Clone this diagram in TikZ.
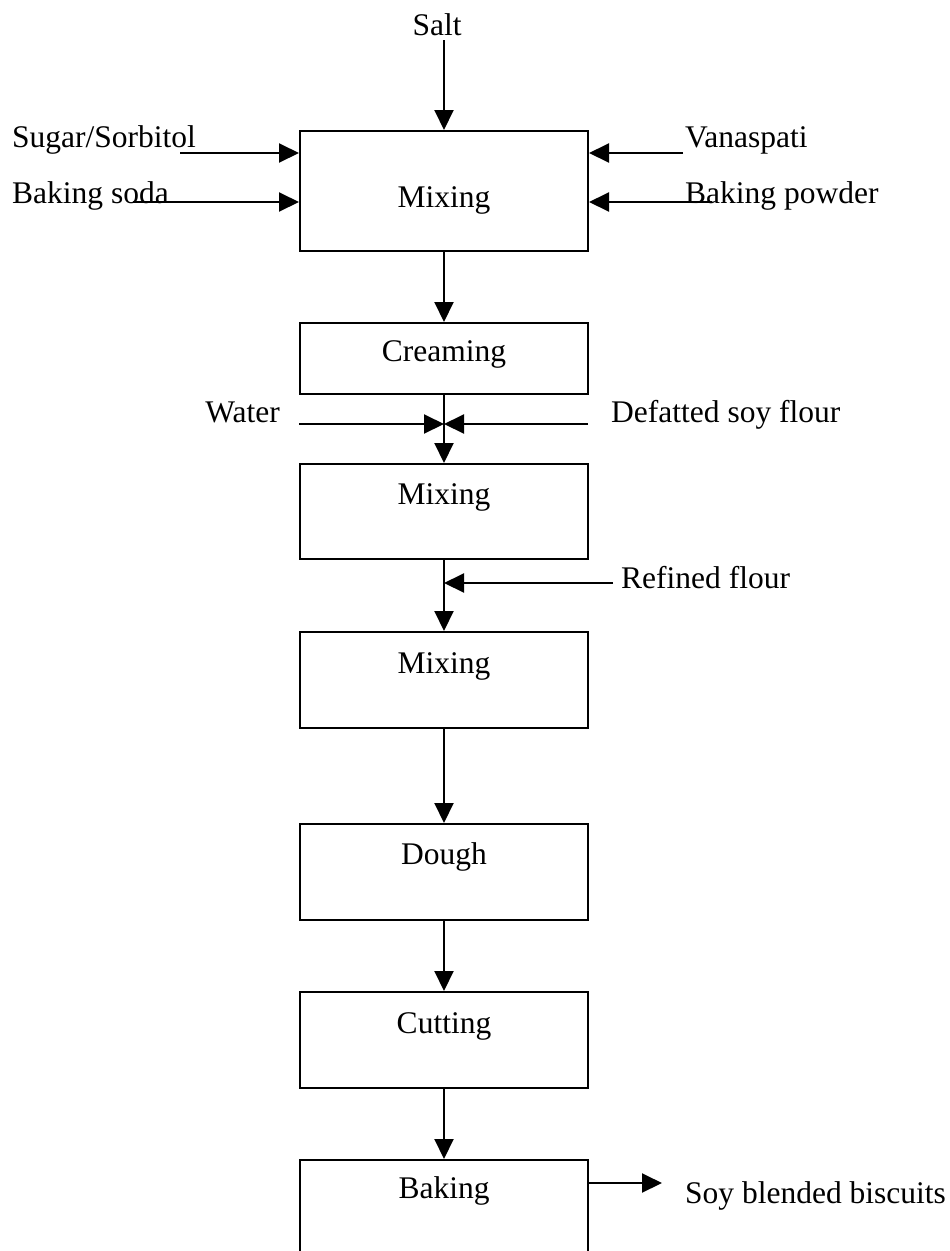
\documentclass[tikz,border=0pt]{standalone}
\usepackage{fontspec}
\setmainfont{Liberation Serif}
\usetikzlibrary{arrows.meta}
\begin{document}
\begin{tikzpicture}[x=1pt,y=-1pt,
  font=\fontsize{31.5}{36}\selectfont,
  every node/.style={inner sep=0pt},
  stepbox/.style={draw,line width=2pt,minimum width=288pt,inner xsep=0pt,inner ysep=0pt,anchor=north},
  lbl/.style={inner sep=0pt},
  arr/.style={line width=2pt,-{Triangle[length=20pt,width=19pt]}}
]
\useasboundingbox (0,0) rectangle (950,1251);
% boxes
\node[stepbox,text height=76pt,text depth=44pt] (m1) at (444,130) {Mixing};
\node[stepbox,text height=38pt,text depth=33pt] (cr) at (444,322) {Creaming};
\node[stepbox,text height=40pt,text depth=55pt] (m2) at (444,463) {Mixing};
\node[stepbox,text height=41pt,text depth=55pt] (m3) at (444,631) {Mixing};
\node[stepbox,text height=40pt,text depth=56pt] (dough) at (444,823) {Dough};
\node[stepbox,text height=41pt,text depth=55pt] (cut) at (444,991) {Cutting};
\node[stepbox,text height=38pt,text depth=80pt] (bake) at (444,1159) {Baking};
% labels
\node[lbl,anchor=base] (salt) at (437,35) {Salt};
\node[lbl,anchor=base west] (sugar) at (12,147) {Sugar/Sorbitol};
\node[lbl,anchor=base west] (soda) at (12,203) {Baking soda};
\node[lbl,anchor=base west] (vana) at (685,147) {Vanaspati};
\node[lbl,anchor=base west] (bpow) at (685,203) {Baking powder};
\node[lbl,anchor=base east] (water) at (280,422) {Water};
\node[lbl,anchor=base west] (soy) at (611,422) {Defatted soy flour};
\node[lbl,anchor=base west] (refined) at (621,588) {Refined flour};
\node[lbl,anchor=base west] (biscuits) at (685,1203) {Soy blended biscuits};
% free ends
\coordinate (saltS) at (444,40);
\coordinate (sugS) at (180,153);
\coordinate (sodaS) at (133,202);
\coordinate (vanaS) at (683,153);
\coordinate (bpowS) at (712,202);
\coordinate (waterS) at (299,424);
\coordinate (soyS) at (588,424);
\coordinate (join) at (444,424);
\coordinate (refS) at (613,583);
\coordinate (outE) at (662,1183);
% connectors
\draw[arr] (saltS) -- (m1.north);
\draw[arr] (sugS) -- (sugS -| m1.west);
\draw[arr] (sodaS) -- (sodaS -| m1.west);
\draw[arr] (vanaS) -- (vanaS -| m1.east);
\draw[arr] (bpowS) -- (bpowS -| m1.east);
\draw[arr] (m1.south) -- (cr.north);
\draw[arr] (cr.south) -- (m2.north);
\draw[arr] (waterS) -- (join);
\draw[arr] (soyS) -- (join);
\draw[arr] (m2.south) -- (m3.north);
\draw[arr] (refS) -- (refS -| m2.south);
\draw[arr] (m3.south) -- (dough.north);
\draw[arr] (dough.south) -- (cut.north);
\draw[arr] (cut.south) -- (bake.north);
\draw[arr] (outE -| bake.east) -- (outE);
\end{tikzpicture}
\end{document}
